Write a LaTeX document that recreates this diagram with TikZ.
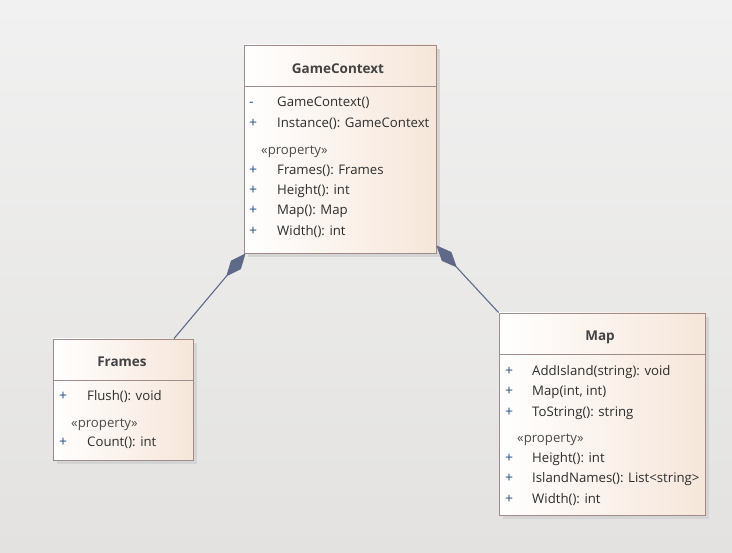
\documentclass[tikz,border=0pt]{standalone}
\usepackage{fontspec}
\setmainfont{Open Sans}
\usetikzlibrary{arrows.meta,shadows}

\definecolor{paper}{HTML}{F1F1F1}
\definecolor{paperlow}{HTML}{E3E2E0}
\definecolor{peach}{HTML}{F6E6DA}
\definecolor{boxedge}{HTML}{A08C8A}
\definecolor{linkblue}{HTML}{5F6A89}
\definecolor{plusblue}{HTML}{234F8C}
\definecolor{ink}{HTML}{2E2E2E}

\tikzset{
  classbox/.style={shape=rectangle,draw=boxedge,line width=0.9pt,left color=white,right color=peach,
    drop shadow={shadow xshift=4pt,shadow yshift=-4pt,fill=black!17,opacity=1}},
  classname/.style={font=\fontsize{13.5}{15}\selectfont\bfseries,text=ink!90},
  member/.style={anchor=base west,inner sep=0pt,font=\fontsize{13.2}{15}\selectfont,text=ink},
  vis/.style={anchor=base west,inner sep=0pt,font=\fontsize{14}{15}\selectfont,text=plusblue},
  stereo/.style={anchor=base west,inner sep=0pt,font=\fontsize{13.2}{15}\selectfont,text=ink!85},
  composition/.style={draw=linkblue,line width=1.1pt,-{Diamond[length=30pt,width=13pt,fill=linkblue]}}
}

\begin{document}
\begin{tikzpicture}[x=1pt,y=-1pt]
        % background
        \shade[top color=paper,bottom color=paperlow] (0,0) rectangle (732,553);
        \useasboundingbox (0,0) rectangle (732,553);

        % classes
        \node[classbox,minimum width=192pt,minimum height=208pt] (gc) at (340,149) {};
        \node[classbox,minimum width=140pt,minimum height=121pt] (frames) at (123,399.5) {};
        \node[classbox,minimum width=206pt,minimum height=202pt] (map) at (602,414) {};

        \draw[boxedge,line width=0.9pt] ([yshift=-42pt]gc.north west) -- ([yshift=-42pt]gc.north east);
        \draw[boxedge,line width=0.9pt] ([yshift=-42pt]frames.north west) -- ([yshift=-42pt]frames.north east);
        \draw[boxedge,line width=0.9pt] ([yshift=-42pt]map.north west) -- ([yshift=-42pt]map.north east);

        \node[classname] (gcname) at (338,69) {GameContext};
        \node[classname] (framesname) at (122,362) {Frames};
        \node[classname] (mapname) at (600,337) {Map};

        % GameContext members
        \node[vis] at (249,107) {-};
        \node[member] at (277,107) {GameContext()};
        \node[vis] at (249,128) {+};
        \node[member] at (277,128) {Instance(): GameContext};
        \node[stereo] at (261,155) {«property»};
        \node[vis] at (249,175) {+};
        \node[member] at (277,175) {Frames(): Frames};
        \node[vis] at (249,195) {+};
        \node[member] at (277,195) {Height(): int};
        \node[vis] at (249,215) {+};
        \node[member] at (277,215) {Map(): Map};
        \node[vis] at (249,236) {+};
        \node[member] at (277,236) {Width(): int};

        % Frames members
        \node[vis] at (59,401) {+};
        \node[member] at (87,401) {Flush(): void};
        \node[stereo] at (71,428) {«property»};
        \node[vis] at (59,447) {+};
        \node[member] at (87,447) {Count(): int};

        % Map members
        \node[vis] at (505,376) {+};
        \node[member] at (532,376) {AddIsland(string): void};
        \node[vis] at (505,396) {+};
        \node[member] at (532,396) {Map(int, int)};
        \node[vis] at (505,417) {+};
        \node[member] at (532,417) {ToString(): string};
        \node[stereo] at (517,443) {«property»};
        \node[vis] at (505,463) {+};
        \node[member] at (532,463) {Height(): int};
        \node[vis] at (505,483) {+};
        \node[member] at (532,483) {IslandNames(): List<string>};
        \node[vis] at (505,504) {+};
        \node[member] at (532,504) {Width(): int};

	% compositions
	\draw[composition] ([xshift=51pt]frames.north) -- ([xshift=2pt]gc.south west);
	\draw[composition] (map.north west) -- ([yshift=8pt]gc.south east);
\end{tikzpicture}
\end{document}
